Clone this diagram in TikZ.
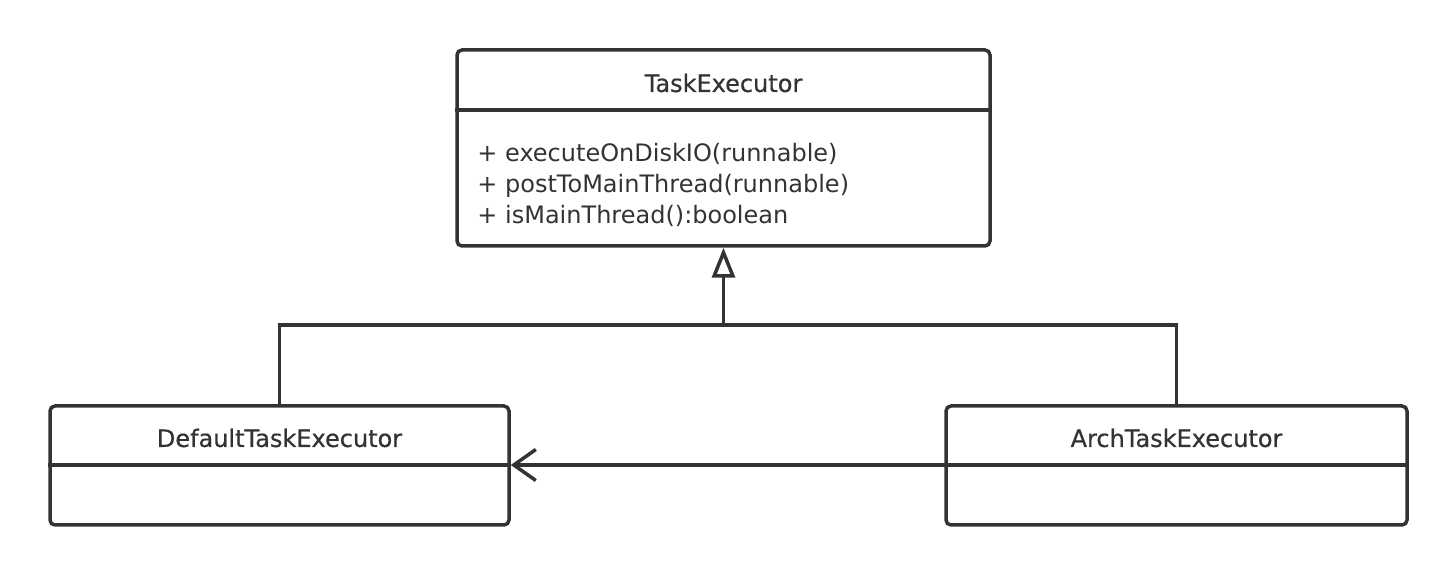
\documentclass[tikz,border=0pt]{standalone}
\usepackage{fontspec}
\setmainfont{DejaVu Sans}
\newfontfamily\titlefont[FakeBold=0.6]{DejaVu Sans}
\usetikzlibrary{arrows.meta}

\definecolor{ink}{HTML}{333333}

\begin{document}
\begin{tikzpicture}[
    every node/.style={text=ink, font=\fontsize{12}{15.5}\selectfont},
    classbox/.style={draw=ink, line width=1.75pt, rounded corners=2.5pt, inner sep=0pt},
    classname/.style={font=\titlefont\fontsize{12}{15.5}\selectfont},
    link/.style={draw=ink, line width=1.75pt}
]
    \useasboundingbox (0,0) rectangle (728pt,-288pt);
    % Interface box
    \node[classbox, minimum width=266.5pt, minimum height=98pt] (task) at (361.75pt,-74pt) {};
    \draw[link] (task.west |- 0,-55pt) -- (task.east |- 0,-55pt);
    \node[classname] (tasktitle) at (361.75pt,-41.5pt) {TaskExecutor};
    \node[anchor=north west, align=left, inner sep=0pt] (taskops) at (238.5pt,-71.5pt)
        {+ executeOnDiskIO(runnable)\\+ postToMainThread(runnable)\\+ isMainThread():boolean};
    % Default implementation
    \node[classbox, minimum width=229.5pt, minimum height=59.5pt] (default) at (139.75pt,-232.75pt) {};
    \draw[link] (default.west |- 0,-232.5pt) -- (default.east |- 0,-232.5pt);
    \node[classname] (defaulttitle) at (139.75pt,-219pt) {DefaultTaskExecutor};
    % Arch implementation
    \node[classbox, minimum width=230.5pt, minimum height=59.5pt] (arch) at (588.25pt,-232.75pt) {};
    \draw[link] (arch.west |- 0,-232.5pt) -- (arch.east |- 0,-232.5pt);
    \node[classname] (archtitle) at (588.25pt,-219pt) {ArchTaskExecutor};
    % Generalization
    \coordinate (joint) at (task.south |- 0,-162.5pt);
    \draw[link, -{Triangle[open, length=15pt, width=11.5pt]}] (joint) -- (task.south);
    \draw[link] (default.north) |- (joint) -| (arch.north);
    % Delegation
    \draw[link, -{Straight Barb[length=11pt, width=15.5pt]}] (arch.west |- 0,-232.5pt) -- (default.east |- 0,-232.5pt);
\end{tikzpicture}
\end{document}
